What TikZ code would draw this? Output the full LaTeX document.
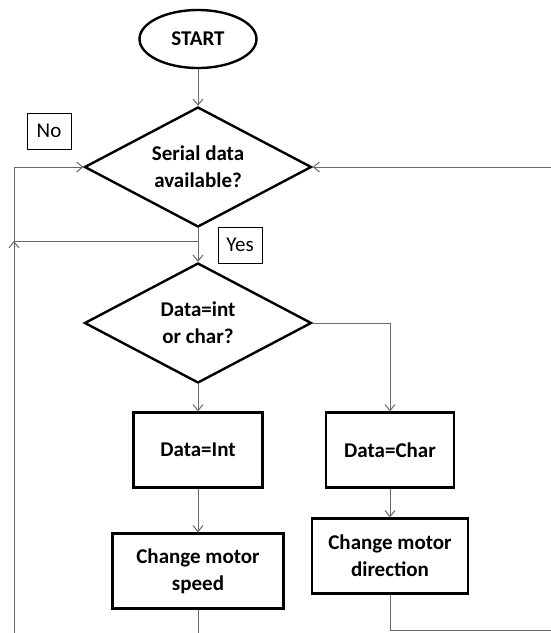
\documentclass[tikz,border=0pt]{standalone}
\usepackage{fontspec}
\setmainfont{Carlito}
\definecolor{FlowGray}{RGB}{105, 105, 105}
\usepackage{tikz}
\usetikzlibrary{arrows.meta, positioning, shapes.geometric}

\begin{document}
\begin{tikzpicture}[
          x=1pt, y=-1pt,
          term/.style={
            ellipse,
            draw,
            line width=2.4pt,
            minimum width=117pt,
            minimum height=58pt,
            inner sep=0pt,
            font=\fontsize{21}{27}\selectfont\bfseries
          },
          decision/.style={
            diamond,
            draw,
            line width=2.4pt,
            aspect=1.9,
            minimum width=227pt,
            minimum height=120pt,
            inner sep=0pt,
            align=center,
            font=\fontsize{21}{27}\selectfont\bfseries
          },
          box/.style={
            draw,
            line width=2.4pt,
            minimum height=75pt,
            inner sep=0pt,
            align=center,
            font=\fontsize{21}{27}\selectfont\bfseries
          },
          tag/.style={
            draw,
            line width=0.8pt,
            minimum width=44pt,
            minimum height=36pt,
            inner sep=0pt,
            font=\fontsize{21}{24}\selectfont
          },
          flow/.style={FlowGray, line width=1pt},
          arrow/.style={flow, -{Straight Barb[length=6pt, width=10pt]}}
        ]
        \useasboundingbox (0,0) rectangle (551,633);
        \node[term] (start) at (198,39) {START};
        \node[decision] (serial) at (198,167) {Serial data\\available?};
        \node[decision] (kind) at (198,323) {Data=int\\or char?};
        \node[box, minimum width=129pt] (int) at (198,450) {Data=Int};
        \node[box, minimum width=128pt] (char) at (390,450) {Data=Char};
        \node[box, minimum width=171pt] (speed) at (198,571) {Change motor\\speed};
        \node[box, minimum width=156pt] (dir) at (390,556) {Change motor\\direction};
        \node[tag] (no) at (49,131) {No};
        \node[tag] (yes) at (240,245) {Yes};
        % loop ends
        \coordinate (yesjoin) at (198,241);
        \coordinate (leftjoin) at (14,241);
        \coordinate (leftend) at (14,633);
        \coordinate (rightend) at (551,167);
        \coordinate (speedend) at (198,633);
        \coordinate (dirend) at (551,630);
        \draw[arrow] (start) -- (serial);
        \draw[arrow] (serial) -- (kind);
        \draw[arrow] (kind) -- (int);
        \draw[arrow] (kind.east) -| (char);
        \draw[arrow] (int) -- (speed);
        \draw[arrow] (char) -- (dir);
        \draw[flow] (speed) -- (speedend);
        \draw[flow] (dir) |- (dirend);
        \draw[arrow] (rightend) -- (serial.east);
        \draw[flow] (yesjoin) -- (leftjoin);
        \draw[arrow] (leftend) -- (leftjoin);
        \draw[arrow] (leftjoin) |- (serial.west);
      \end{tikzpicture}
\end{document}
